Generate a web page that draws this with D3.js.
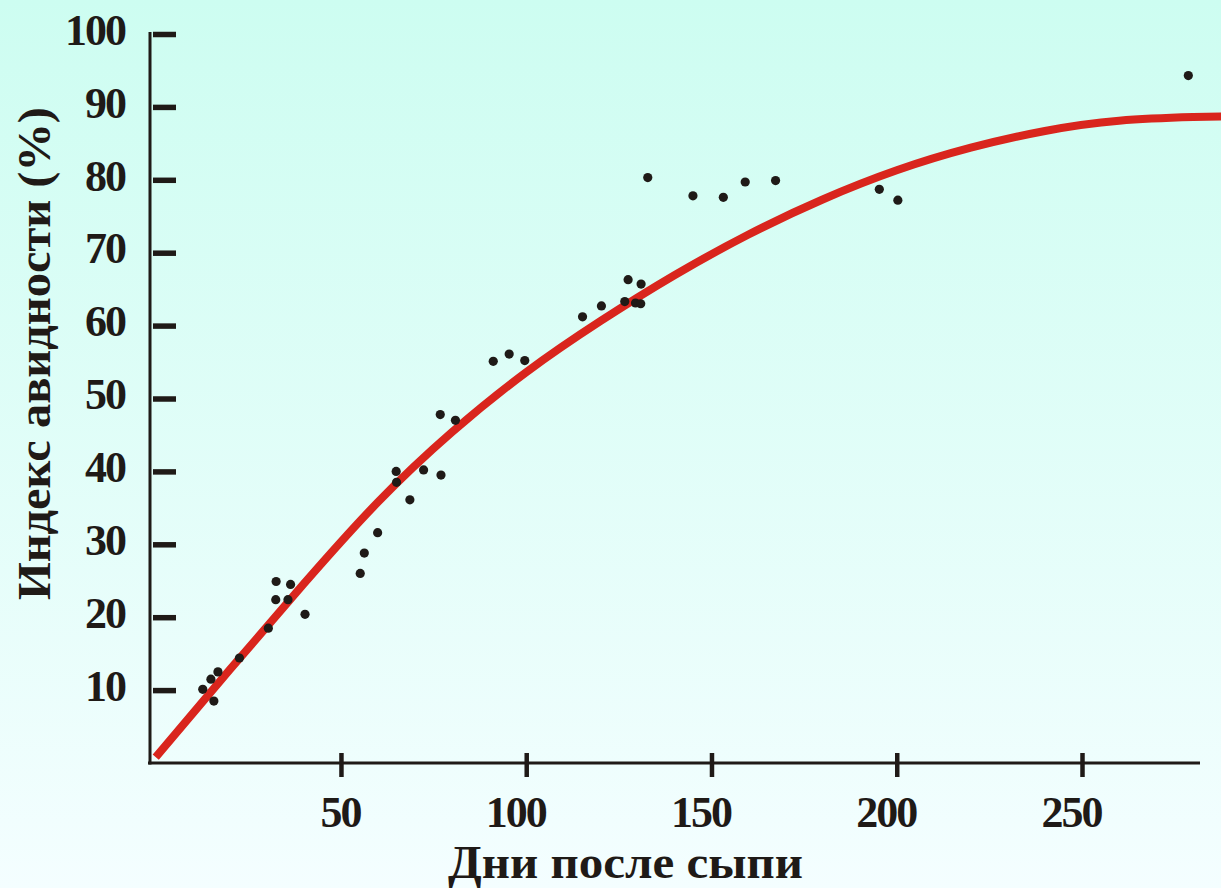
<!DOCTYPE html>
<html>
<head>
  <meta charset="UTF-8">
  <script src="https://d3js.org/d3.v7.min.js"></script>
  <style>
    body { margin: 0; }
    text { font-family: "Liberation Serif", "Times New Roman", serif; font-weight: bold; fill: #1f1a17; }
  </style>
</head>
<body>
  <script>
    // measured points: days after rash / avidity index (%)
    var days = [12.7, 14.9, 15.7, 16.8, 22.6, 30.4, 32.5, 32.4, 36.4, 35.7, 40.3,
      55.2, 56.3, 59.9, 64.9, 65.0, 68.6, 72.3, 77.0, 76.8, 80.9,
      91.1, 95.4, 99.6, 115.2, 120.3, 126.6, 127.5, 131.0, 129.5, 130.9,
      132.8, 145.0, 153.2, 159.1, 167.3, 195.3, 200.3, 278.7];
    var avidity = [10.1, 11.5, 8.5, 12.5, 14.4, 18.5, 24.9, 22.4, 24.5, 22.4, 20.4,
      26.0, 28.8, 31.6, 40.0, 38.5, 36.1, 40.2, 39.5, 47.8, 47.0,
      55.1, 56.1, 55.2, 61.2, 62.7, 63.3, 66.3, 65.7, 63.1, 63.0,
      80.3, 77.8, 77.6, 79.7, 79.9, 78.7, 77.2, 94.3];

    // fitted curve
    var curveDays = [0, 20, 40, 60, 80, 100, 120, 140, 160, 180, 200, 220, 240, 260, 280, 288];
    var curveValues = [0.8, 12.8, 24.6, 35.8, 45.4, 53.6, 60.6, 66.9, 72.5, 77.3, 81.3, 84.4, 86.7, 88.1, 88.6, 88.7];

    var yTicks = [10, 20, 30, 40, 50, 60, 70, 80, 90, 100];
    var xTicks = [50, 100, 150, 200, 250];
    var xTitle = "Дни после сыпи";
    var yTitle = "Индекс авидности (%)";

    var width = 1221;
    var height = 888;
    var ink = "#1f1a17";

    var svg = d3.select("body")
      .append("svg")
      .attr("width", width)
      .attr("height", height);

    // background gradient
    var grad = svg.append("defs").append("linearGradient")
      .attr("id", "bg")
      .attr("x1", 0).attr("y1", 0).attr("x2", 0).attr("y2", 1);
    grad.append("stop").attr("offset", "0%").attr("stop-color", "#cdfdf1");
    grad.append("stop").attr("offset", "100%").attr("stop-color", "#f4feff");
    svg.append("rect")
      .attr("width", width)
      .attr("height", height)
      .attr("fill", "url(#bg)");

    var x = d3.scaleLinear().domain([0, 250]).range([155.7, 1082]);
    var y = d3.scaleLinear().domain([0, 100]).range([763, 34]);

    // axis lines
    svg.append("line")
      .attr("x1", 150).attr("x2", 150)
      .attr("y1", 32).attr("y2", 764.5)
      .attr("stroke", ink).attr("stroke-width", 3);
    svg.append("line")
      .attr("x1", 148).attr("x2", 1200)
      .attr("y1", 763).attr("y2", 763)
      .attr("stroke", ink).attr("stroke-width", 3);

    // y axis ticks + labels
    var yAxis = svg.append("g")
      .attr("transform", "translate(153,0)")
      .call(d3.axisLeft(y).tickValues(yTicks).tickSizeInner(-23).tickSizeOuter(0).tickPadding(28));
    yAxis.select(".domain").remove();
    yAxis.selectAll("line").attr("stroke", ink).attr("stroke-width", 5.5);
    yAxis.selectAll("text")
      .attr("font-size", 44)
      .attr("font-family", null)
      .attr("letter-spacing", -2)
      .attr("dy", "0.3em")
      .attr("y", -3)
      .attr("fill", ink);

    // x axis ticks + labels
    var xAxis = svg.append("g")
      .attr("transform", "translate(0,763)")
      .call(d3.axisBottom(x).tickValues(xTicks).tickSizeOuter(0));
    xAxis.select(".domain").remove();
    xAxis.selectAll("line")
      .attr("y1", -10).attr("y2", 14)
      .attr("stroke", ink).attr("stroke-width", 4.5);
    xAxis.selectAll("text")
      .attr("font-size", 44)
      .attr("font-family", null)
      .attr("letter-spacing", -2)
      .attr("text-anchor", "end")
      .attr("x", 19)
      .attr("y", 64)
      .attr("dy", 0)
      .attr("fill", ink);

    // fitted curve
    var line = d3.line()
      .x(function(d, i) { return x(curveDays[i]); })
      .y(function(d) { return y(d); })
      .curve(d3.curveNatural);
    svg.append("path")
      .attr("d", line(curveValues))
      .attr("fill", "none")
      .attr("stroke", "#d9251d")
      .attr("stroke-width", 8);

    // data points
    svg.selectAll("circle.pt")
      .data(days)
      .enter()
      .append("circle")
      .attr("class", "pt")
      .attr("cx", function(d) { return x(d); })
      .attr("cy", function(d, i) { return y(avidity[i]); })
      .attr("r", 4.6)
      .attr("fill", ink);

    // axis titles
    svg.append("text")
      .attr("x", 625.5)
      .attr("y", 878)
      .attr("text-anchor", "middle")
      .attr("font-size", 47)
      .attr("textLength", 355)
      .attr("lengthAdjust", "spacingAndGlyphs")
      .text(xTitle);

    svg.append("text")
      .attr("transform", "translate(50,353.5) rotate(-90)")
      .attr("text-anchor", "middle")
      .attr("font-size", 47)
      .attr("textLength", 493)
      .attr("lengthAdjust", "spacingAndGlyphs")
      .text(yTitle);
  </script>
</body>
</html>
